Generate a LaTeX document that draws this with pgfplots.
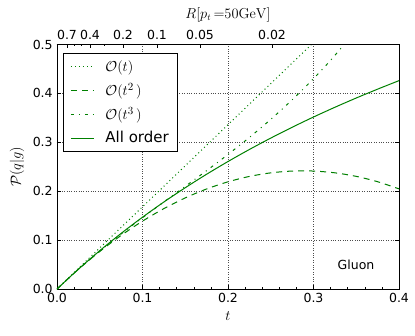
\documentclass[border=0pt]{standalone}
\usepackage[no-math]{fontspec}
\setmainfont{DejaVu Sans}
\usepackage{pgfplots}
\pgfplotsset{compat=1.18}
\usetikzlibrary{calc}
\definecolor{mplgreen}{rgb}{0,0.5,0}
\begin{document}
\fontsize{12.5}{15}\selectfont
\begin{tikzpicture}
\begin{axis}[name=ax, scale only axis, width=342pt, height=244.5pt,
  xmin=0, xmax=0.4, ymin=0, ymax=0.5,
  xtick={0,0.1,0.2,0.3,0.4}, ytick={0,0.1,0.2,0.3,0.4,0.5},
  minor x tick num=4,
  xtick pos=left, ytick pos=both,
  tick align=inside,
  major tick length=4pt, minor tick length=2pt,
  every tick/.style={black, line width=0.5pt},
  axis line style={line width=0.8pt},
  grid=major,
  major grid style={black!70, dotted, line width=0.5pt},
  /pgf/number format/assume math mode=true,
  xticklabel style={/pgf/number format/.cd, fixed, fixed zerofill, precision=1},
  yticklabel style={/pgf/number format/.cd, fixed, fixed zerofill, precision=1},
  ticklabel style={font=\fontsize{12.5}{15}\selectfont},
  xlabel={$t$}, ylabel={$\mathcal{P}(q|g)$},
  label style={font=\fontsize{13.5}{16}\selectfont},
  legend cell align=left,
  legend style={at={(0,1)}, anchor=north west, xshift=6pt, yshift=-8.5pt,
    draw=black, line width=0.8pt, font=\fontsize{15}{17.5}\selectfont,
    row sep=6pt, column sep=9pt, inner xsep=7pt, inner ysep=5pt},
  legend image code/.code={\draw[#1, mplgreen, line width=1pt] (0pt,0pt) -- (23pt,0pt);},
]
\addplot[mplgreen, line width=1pt, dash pattern=on 1pt off 3pt] coordinates {
(0,0) (0.2976,0.5) (0.32,0.5376)};
\addlegendentry{$\mathcal{O}(t)$}
\addplot[mplgreen, line width=1pt, dash pattern=on 6pt off 5pt, smooth] coordinates {
(0,0) (0.025,0.0402) (0.05,0.0767) (0.075,0.1096) (0.1,0.1388) (0.125,0.1644) (0.15,0.1863)
(0.175,0.2046) (0.2,0.2192) (0.225,0.2302) (0.25,0.2375) (0.275,0.2412) (0.3,0.2412)
(0.325,0.2376) (0.35,0.2303) (0.375,0.2194) (0.4,0.2048)};
\addlegendentry{$\mathcal{O}(t^2\,)$}
\addplot[mplgreen, line width=1pt, dash pattern=on 3pt off 5pt on 1pt off 5pt, smooth] coordinates {
(0,0) (0.025,0.0403) (0.05,0.0776) (0.075,0.1126) (0.1,0.1458) (0.125,0.1781) (0.15,0.2099)
(0.175,0.2421) (0.2,0.2752) (0.225,0.3099) (0.25,0.3469) (0.275,0.3868) (0.3,0.4302)
(0.32,0.4677) (0.34,0.5087)};
\addlegendentry{$\mathcal{O}(t^3\,)$}
\addplot[mplgreen, line width=1pt, smooth] coordinates {
(0,0) (0.025,0.0405) (0.05,0.0783) (0.075,0.1137) (0.1,0.1468) (0.125,0.1779) (0.15,0.2071)
(0.175,0.2347) (0.2,0.2607) (0.225,0.2853) (0.25,0.3086) (0.275,0.3307) (0.3,0.3517)
(0.325,0.3716) (0.35,0.3906) (0.375,0.4087) (0.4,0.4261)};
\addlegendentry{All order}
\node[font=\fontsize{12.5}{15}\selectfont] at (axis cs:0.3497,0.049) {Gluon};
\end{axis}
\begin{axis}[scale only axis, width=342pt, height=244.5pt,
  xmin=0, xmax=0.4, ymin=0, ymax=0.5,
  axis x line*=top, axis y line=none,
  axis line style={line width=0.8pt, -},
  tick align=inside,
  major tick length=4pt, minor tick length=2pt,
  every tick/.style={black, line width=0.5pt},
  xtick={0.0117,0.0386,0.07719,0.11696,0.16725,0.25146},
  xticklabels={0.7,0.4,0.2,0.1,0.05,0.02},
  minor xtick={0.01988,0.02807,0.05497},
  ticklabel style={font=\fontsize{12.5}{15}\selectfont},
  xlabel={$R[p_t\,{=}50\mathrm{GeV}]$},
  label style={font=\fontsize{13.5}{16}\selectfont},
]
\addplot[draw=none] coordinates {(0,0)};
\end{axis}
\path[use as bounding box] ($(ax.south west)+(-57pt,-46pt)$) rectangle ($(ax.north east)+(16pt,44.5pt)$);
\end{tikzpicture}
\end{document}
